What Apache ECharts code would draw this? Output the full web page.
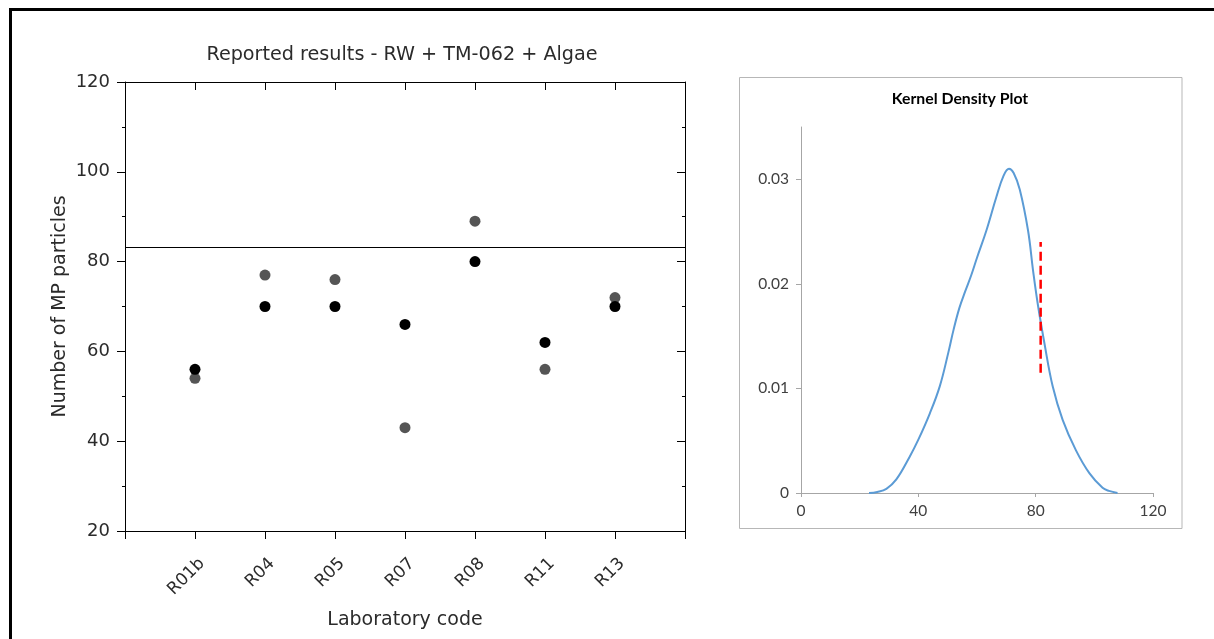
<!DOCTYPE html>
<html>
<head>
<meta charset="utf-8">
<script src="https://cdn.jsdelivr.net/npm/echarts@6/dist/echarts.min.js"></script>
<style>
  html, body { margin: 0; padding: 0; background: #fff; }
  #chart { width: 1214px; height: 639px; }
</style>
</head>
<body>
<div id="chart"></div>
<script>
// Reported results per laboratory (two replicate series)
const labCodes = ['R01b', 'R04', 'R05', 'R07', 'R08', 'R11', 'R13'];
const resultBlack = [56, 70, 70, 66, 80, 62, 70];
const resultGray = [54, 77, 76, 43, 89, 56, 72];
const assignedValue = 83.2;
const labPositions = [1, 2, 3, 4, 5, 6, 7];

// Kernel density estimate of the reported results
const kdeX = [23.2, 26, 29.1, 32.5, 37.1, 40, 43.9, 47.3, 50.2, 52, 54, 56, 58, 60, 63.2, 66.6, 69, 70.9, 72.5, 74.6, 77.4, 79.1, 80.7, 83, 85.8, 89.2, 93.7, 98.3, 102.8, 105, 107.9];
const kdeY = [0, 0.0001, 0.0004, 0.0013, 0.0035, 0.0051, 0.0076, 0.0102, 0.0134, 0.0156, 0.0177, 0.0193, 0.0208, 0.0225, 0.0251, 0.0283, 0.0303, 0.0310, 0.0306, 0.0290, 0.0251, 0.0213, 0.0181, 0.0143, 0.0102, 0.0070, 0.0041, 0.0019, 0.0005, 0.0002, 0];
const kdeMarkX = 81.7;
const kdeMarkY = [0.0115, 0.024];
const kdeYTicks = [0, 0.01, 0.02, 0.03];

const FONT = 'DejaVu Sans';
const XL_FONT = 'Lato';
const TXT = '#2b2b2b';

const chart = echarts.init(document.getElementById('chart'), null, { renderer: 'canvas' });

const axisBlack = { lineStyle: { color: '#000', width: 1 } };
// label offset of the rotated laboratory codes, in category units
const labelShift = 0.1;

chart.setOption({
  animation: false,
  backgroundColor: '#fff',
  title: [
    {
      text: 'Reported results - RW + TM-062 + Algae',
      left: 397, top: 41, textAlign: 'center',
      textStyle: { fontFamily: FONT, fontSize: 19.2, fontWeight: 'normal', color: TXT }
    },
    {
      text: 'Kernel Density Plot',
      left: 955, top: 86, textAlign: 'center',
      textStyle: { fontFamily: XL_FONT, fontSize: 15.8, fontWeight: 'bold', color: '#000' }
    }
  ],
  graphic: [
    {
      type: 'rect', silent: true, z: 100,
      shape: { x: 10.5, y: 9.5, width: 1400, height: 900 },
      style: { fill: 'none', stroke: '#000', lineWidth: 3 }
    },
    {
      type: 'rect', silent: true, z: 0,
      shape: { x: 739.5, y: 77.5, width: 442.5, height: 451 },
      style: { fill: 'none', stroke: '#b7b7b7', lineWidth: 1 }
    }
  ],
  grid: [
    { left: 125, right: 529, top: 82, bottom: 108, containLabel: false },
    { left: 801, right: 61, top: 127, bottom: 146, containLabel: false }
  ],
  xAxis: [
    {
      gridIndex: 0, type: 'value', position: 'bottom', min: 0, max: 8, interval: 1,
      axisLine: { show: true, onZero: false, ...axisBlack },
      axisTick: { show: true, inside: false, length: 8, lineStyle: { color: '#000' } },
      axisLabel: { show: false },
      splitLine: { show: false },
      name: 'Laboratory code', nameLocation: 'middle', nameGap: 80,
      nameTextStyle: { fontFamily: FONT, fontSize: 19, color: TXT }
    },
    {
      gridIndex: 0, type: 'value', position: 'top', min: 0, max: 8, interval: 1,
      axisLine: { show: true, onZero: false, ...axisBlack },
      axisTick: { show: true, inside: true, length: 8, lineStyle: { color: '#000' } },
      axisLabel: { show: false },
      splitLine: { show: false }
    },
    {
      gridIndex: 1, type: 'value', min: 0, max: 120, interval: 40,
      axisLine: { show: true, onZero: false, lineStyle: { color: '#a6a6a6', width: 1 } },
      axisTick: { show: true, inside: false, length: 4, lineStyle: { color: '#a6a6a6' } },
      axisLabel: { margin: 10, fontFamily: XL_FONT, fontSize: 15.5, color: '#404040' },
      splitLine: { show: false }
    },
    {
      // rotated laboratory codes under the left plot
      gridIndex: 0, type: 'value', position: 'bottom', min: -labelShift, max: 8 - labelShift,
      axisLine: { show: false, onZero: false },
      axisTick: { show: false },
      axisLabel: {
        rotate: 45, margin: 30, fontFamily: FONT, fontSize: 17, color: TXT,
        customValues: labPositions,
        formatter: v => labCodes[Math.round(v) - 1] || ''
      },
      splitLine: { show: false }
    }
  ],
  yAxis: [
    {
      gridIndex: 0, type: 'value', position: 'left', min: 20, max: 120, interval: 20,
      axisLine: { show: true, onZero: false, ...axisBlack },
      axisTick: { show: true, inside: false, length: 8, lineStyle: { color: '#000' } },
      minorTick: { show: true, splitNumber: 2, length: 3, lineStyle: { color: '#000' } },
      axisLabel: { margin: 15, fontFamily: FONT, fontSize: 18, color: TXT },
      splitLine: { show: false },
      name: 'Number of MP particles', nameLocation: 'middle', nameGap: 55,
      nameTextStyle: { fontFamily: FONT, fontSize: 19, color: TXT }
    },
    {
      gridIndex: 0, type: 'value', position: 'right', min: 20, max: 120, interval: 20,
      axisLine: { show: true, onZero: false, ...axisBlack },
      axisTick: { show: true, inside: true, length: 8, lineStyle: { color: '#000' } },
      minorTick: { show: true, splitNumber: 2, length: 3, lineStyle: { color: '#000' } },
      axisLabel: { show: false },
      splitLine: { show: false }
    },
    {
      gridIndex: 1, type: 'value', min: 0, max: 0.035,
      axisLine: { show: true, onZero: false, lineStyle: { color: '#a6a6a6', width: 1 } },
      axisTick: { show: true, inside: false, length: 5, customValues: kdeYTicks, lineStyle: { color: '#a6a6a6' } },
      axisLabel: { margin: 12, fontFamily: XL_FONT, fontSize: 15.5, color: '#404040', customValues: kdeYTicks },
      splitLine: { show: false }
    }
  ],
  series: [
    {
      type: 'scatter', xAxisIndex: 0, yAxisIndex: 0,
      symbol: 'circle', symbolSize: 11,
      itemStyle: { color: '#555555', opacity: 1 },
      data: labPositions.map((p, i) => [p, resultGray[i]])
    },
    {
      type: 'scatter', xAxisIndex: 0, yAxisIndex: 0,
      symbol: 'circle', symbolSize: 11,
      itemStyle: { color: '#000000', opacity: 1 },
      data: labPositions.map((p, i) => [p, resultBlack[i]]),
      markLine: {
        silent: true, symbol: 'none', label: { show: false },
        lineStyle: { color: '#000', width: 1, type: 'solid' },
        data: [{ yAxis: assignedValue }]
      }
    },
    {
      type: 'line', xAxisIndex: 2, yAxisIndex: 2,
      smooth: 0.4, showSymbol: false,
      lineStyle: { color: '#5b9bd5', width: 2 },
      data: kdeX.map((x, i) => [x, kdeY[i]])
    },
    {
      type: 'line', xAxisIndex: 2, yAxisIndex: 2,
      showSymbol: false,
      lineStyle: { color: '#ff0000', width: 2.5, type: [9, 5] },
      data: kdeMarkY.map(y => [kdeMarkX, y])
    }
  ]
});
</script>
</body>
</html>
